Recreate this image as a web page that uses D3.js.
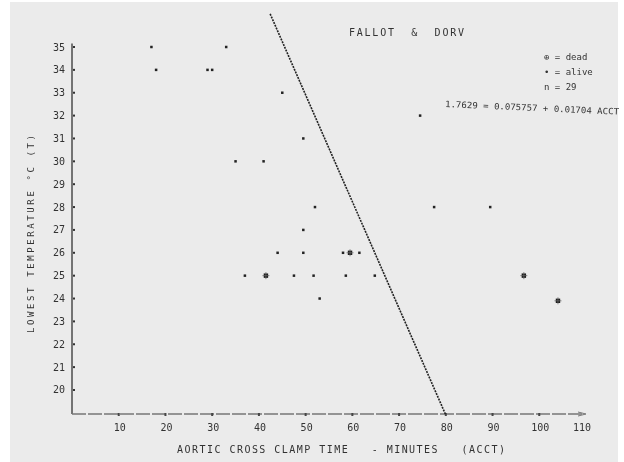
<!DOCTYPE html>
<html>
<head>
<meta charset="utf-8">
<script src="https://cdn.jsdelivr.net/npm/d3@7"></script>
<style>
  body { margin: 0; background: #fff; }
  text { font-family: "DejaVu Sans Mono", monospace; fill: #333; white-space: pre; }
</style>
</head>
<body>
<div id="chart"></div>
<script>
// values
var acct    = [17, 33, 18, 29, 30, 45, 74.5, 49.5, 35, 41, 52, 77.5, 89.5, 49.5,
               44, 49.5, 58, 59.5, 61.5, 37, 41.5, 47.5, 51.7, 58.6, 64.8, 96.7, 53, 104];
var temp    = [35, 35, 34, 34, 34, 33, 32, 31, 30, 30, 28, 28, 28, 27,
               26, 26, 26, 26, 26, 25, 25, 25, 25, 25, 25, 25, 24, 23.9];
var outcome = ["alive", "alive", "alive", "alive", "alive", "alive", "alive", "alive", "alive", "alive", "alive", "alive", "alive", "alive",
               "alive", "alive", "alive", "dead", "alive", "alive", "dead", "alive", "alive", "alive", "alive", "dead", "alive", "dead"];

var xTicks = [10, 20, 30, 40, 50, 60, 70, 80, 90, 100, 110];
var yTicks = [20, 21, 22, 23, 24, 25, 26, 27, 28, 29, 30, 31, 32, 33, 34, 35];

// discriminant line, end points
var lineAcct = [42.4, 79.9];
var lineTemp = [36.45, 18.95];

var legendLines = ["\u2295 = dead", "\u2022 = alive", "n = 29"];
var equation = "1.7629 = 0.075757 + 0.01704 ACCT";

var W = 624, H = 462;

var svg = d3.select("#chart")
  .append("svg")
  .attr("width", W)
  .attr("height", H);

var defs = svg.append("defs");
defs.append("filter").attr("id", "scan")
  .append("feGaussianBlur").attr("stdDeviation", 0.45);

// paper
svg.append("rect")
  .attr("x", 10).attr("y", 2)
  .attr("width", 608).attr("height", 460)
  .attr("fill", "#ebebeb");

var g = svg.append("g").attr("filter", "url(#scan)");

var x = d3.scaleLinear().domain([0, 110]).range([72, 586]);
var y = d3.scaleLinear().domain([18.95, 35]).range([414, 47]);

// axes, drawn as plain lines with dot ticks
g.append("line")
  .attr("x1", x(0)).attr("x2", x(0))
  .attr("y1", y(35.15)).attr("y2", y(18.95))
  .attr("stroke", "#555").attr("stroke-width", 1.6);

g.append("line")
  .attr("x1", x(0)).attr("x2", x(110) - 2)
  .attr("y1", y(18.95)).attr("y2", y(18.95))
  .attr("stroke", "#777").attr("stroke-width", 1.4)
  .attr("stroke-dasharray", "14,2");

g.append("path")
  .attr("d", "M" + (x(110) - 8) + "," + (y(18.95) - 2) + " L" + x(110) + "," + y(18.95) + " L" + (x(110) - 8) + "," + (y(18.95) + 2))
  .attr("fill", "none").attr("stroke", "#777").attr("stroke-width", 1);

g.selectAll(".ytick").data(yTicks).enter()
  .append("rect")
  .attr("x", x(0) + 1).attr("y", function(d) { return y(d) - 1; })
  .attr("width", 2).attr("height", 2)
  .attr("fill", "#333");

g.selectAll(".ylab").data(yTicks).enter()
  .append("text")
  .attr("x", 65).attr("y", function(d) { return y(d) + 3.5; })
  .attr("text-anchor", "end")
  .attr("font-size", 10)
  .text(function(d) { return d; });

g.selectAll(".xtick").data(xTicks.slice(0, 10)).enter()
  .append("rect")
  .attr("x", function(d) { return x(d) - 1; }).attr("y", y(18.95) - 1)
  .attr("width", 2).attr("height", 3)
  .attr("fill", "#444");

g.selectAll(".xlab").data(xTicks).enter()
  .append("text")
  .attr("x", function(d) { return x(d) + (d == 110 ? -4 : 1); })
  .attr("y", 431)
  .attr("text-anchor", "middle")
  .attr("font-size", 10)
  .text(function(d) { return d; });

// axis titles
g.append("text")
  .attr("x", 177).attr("y", 453)
  .attr("font-size", 10)
  .attr("textLength", 328).attr("lengthAdjust", "spacing")
  .text("AORTIC CROSS CLAMP TIME   - MINUTES   (ACCT)");

g.append("text")
  .attr("transform", "translate(34,333) rotate(-90)")
  .attr("font-size", 9)
  .attr("textLength", 198).attr("lengthAdjust", "spacing")
  .text("LOWEST TEMPERATURE \u00B0C (T)");

// title and legend
g.append("text")
  .attr("x", 349).attr("y", 36)
  .attr("font-size", 10)
  .attr("textLength", 115).attr("lengthAdjust", "spacing")
  .text("FALLOT  &  DORV");

g.selectAll(".leg").data(legendLines).enter()
  .append("text")
  .attr("x", 544)
  .attr("y", function(d, i) { return 60 + i * 15; })
  .attr("font-size", 9)
  .text(function(d) { return d; });

g.append("text")
  .attr("transform", "translate(445,107) rotate(2.5)")
  .attr("font-size", 8.6)
  .attr("textLength", 174).attr("lengthAdjust", "spacingAndGlyphs")
  .text(equation);

// discriminant line
g.append("line")
  .attr("x1", x(lineAcct[0])).attr("y1", y(lineTemp[0]))
  .attr("x2", x(lineAcct[1])).attr("y2", y(lineTemp[1]))
  .attr("stroke", "#222").attr("stroke-width", 1.6)
  .attr("stroke-dasharray", "2,1");

// points
var pts = acct.map(function(a, i) { return { acct: a, temp: temp[i], outcome: outcome[i] }; });

g.selectAll(".alive").data(pts.filter(function(d) { return d.outcome == "alive"; })).enter()
  .append("rect")
  .attr("x", function(d) { return x(d.acct) - 1.25; })
  .attr("y", function(d) { return y(d.temp) - 1.25; })
  .attr("width", 2.5).attr("height", 2.5)
  .attr("fill", "#222");

var dead = g.selectAll(".dead").data(pts.filter(function(d) { return d.outcome == "dead"; })).enter()
  .append("g")
  .attr("transform", function(d) { return "translate(" + x(d.acct) + "," + y(d.temp) + ")"; });

dead.append("rect")
  .attr("x", -2.2).attr("y", -2.2)
  .attr("width", 4.4).attr("height", 4.4)
  .attr("fill", "#1a1a1a");
dead.append("path")
  .attr("d", "M-3.5,0 L3.5,0 M0,-3.5 L0,3.5")
  .attr("stroke", "#666").attr("stroke-width", 0.8);
</script>
</body>
</html>
